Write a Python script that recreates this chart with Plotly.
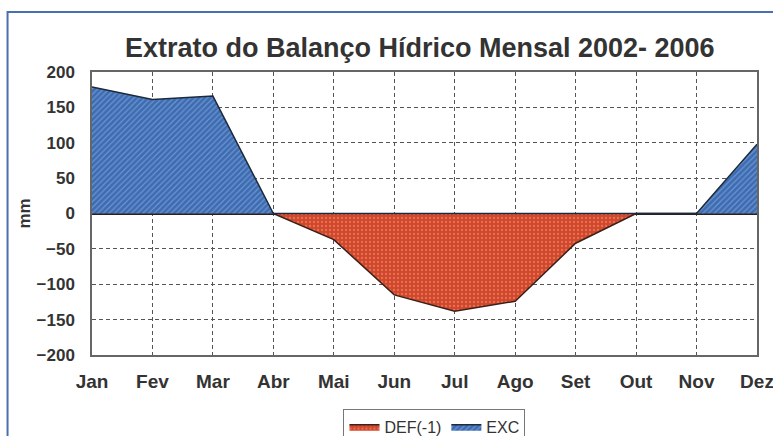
import plotly.graph_objects as go

months = ["Jan", "Fev", "Mar", "Abr", "Mai", "Jun", "Jul", "Ago", "Set", "Out", "Nov", "Dez"]
exc = [179, 161, 166, 0, 0, 0, 0, 0, 0, 0, 0, 98]
deficit = [0, 0, 0, 0, -37, -115, -138, -124, -42, 0, 0, 0]
y_ticks = [200, 150, 100, 50, 0, -50, -100, -150, -200]

x = list(range(len(months)))
font_fam = "Liberation Sans, Arial, sans-serif"

fig = go.Figure()
fig.add_trace(go.Scatter(
    x=x, y=deficit, name="DEF(-1)", mode="lines", fill="tozeroy",
    line=dict(color="#3a2018", width=1.5),
    fillcolor="#d2462a",
    fillpattern=dict(shape=".", bgcolor="#d2462a", fgcolor="#f2a286", size=4, solidity=0.25),
))
fig.add_trace(go.Scatter(
    x=x, y=exc, name="EXC", mode="lines", fill="tozeroy",
    line=dict(color="#1d2a3a", width=1.5),
    fillcolor="#3d6cb3",
    fillpattern=dict(shape="/", bgcolor="#3d6cb3", fgcolor="#9fbde6", size=4, solidity=0.3),
))

fig.update_layout(
    width=773, height=436,
    margin=dict(l=92, r=16, t=72, b=81, autoexpand=False),
    paper_bgcolor="white", plot_bgcolor="white",
    font=dict(family=font_fam, color="#333333"),
    title=dict(text="<b>Extrato do Balanço Hídrico Mensal 2002- 2006</b>",
               x=0.543, xanchor="center", y=0.892, yanchor="middle",
               font=dict(size=27, color="#333333", family=font_fam)),
    showlegend=True,
    legend=dict(orientation="h", x=0.515, xanchor="center", y=-0.19, yanchor="top",
                bordercolor="#777777", borderwidth=1, bgcolor="white",
                font=dict(size=16, color="#333333"), itemwidth=30,
                tracegroupgap=0, traceorder="normal"),
    xaxis=dict(range=[0, 11], tickmode="array", tickvals=x, ticktext=months,
               showgrid=True, gridcolor="#555555", griddash="4px,3px", gridwidth=1.3,
               showline=True, linecolor="#666666", linewidth=1.5, mirror=True,
               zeroline=False, ticks="", ticklabelstandoff=8, automargin=False,
               ticklabeloverflow="allow",
               tickfont=dict(size=19, color="#333333", family=font_fam, weight="bold")),
    yaxis=dict(range=[-200, 200], tickmode="array", tickvals=y_ticks,
               showgrid=True, gridcolor="#555555", griddash="4px,3px", gridwidth=1.3,
               showline=True, linecolor="#666666", linewidth=1.5, mirror=True,
               zeroline=True, zerolinecolor="#222222", zerolinewidth=1.5,
               ticks="", ticklabelstandoff=12, automargin=False,
               tickfont=dict(size=17, color="#333333", family=font_fam, weight="bold"),
               title=dict(text="<b>mm</b>", standoff=2,
                          font=dict(size=17, color="#333333", family=font_fam))),
)

fig.add_shape(type="rect", xref="paper", yref="paper",
              x0=-0.127, x1=1.06, y0=-0.4, y1=1.212,
              line=dict(color="#4a6fae", width=2), fillcolor="rgba(0,0,0,0)", layer="above")

fig.write_html("out.html", config={"displayModeBar": False},
               post_script="document.body.style.margin='0';document.body.style.overflow='hidden';")
